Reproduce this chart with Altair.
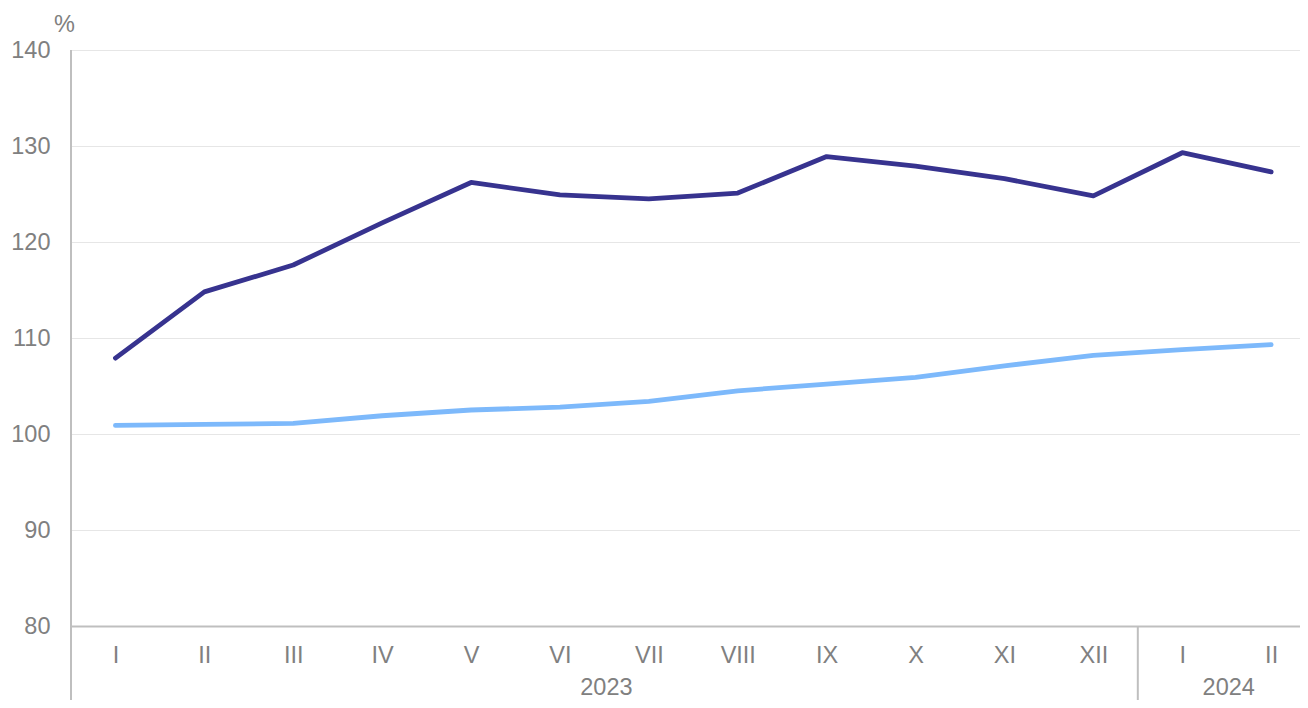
import json
import altair as alt
import pandas as pd

months = ["I", "II", "III", "IV", "V", "VI", "VII", "VIII", "IX", "X", "XI", "XII", "I", "II"]
years = [2023] * 12 + [2024] * 2
dark_series = [107.9, 114.8, 117.6, 122.0, 126.2, 124.9, 124.5, 125.1, 128.9, 127.9, 126.6, 124.8, 129.3, 127.3]
light_series = [100.9, 101.0, 101.1, 101.9, 102.5, 102.8, 103.4, 104.5, 105.2, 105.9, 107.1, 108.2, 108.8, 109.3]
y_ticks = [80, 90, 100, 110, 120, 130, 140]
series_names = ["Serie 1", "Serie 2"]
series_colors = ["#37338f", "#7db9fb"]

W, H = 1229, 576
STEP = 88.9  # pixel width of one month band
GRAY = "#808080"
LINE = "#bfbfbf"
FONT = "Liberation Sans"
FS = 23.5

idx = list(range(len(months)))
df = pd.DataFrame({"i": idx * 2,
                   "v": dark_series + light_series,
                   "series": [series_names[0]] * len(idx) + [series_names[1]] * len(idx)})

yr = pd.DataFrame({"i": idx, "year": years})
year_lab = yr.groupby("year", as_index=False)["i"].mean()
year_lab["label"] = year_lab["year"].astype(str)
seps = yr.groupby("year", as_index=False)["i"].max().iloc[:-1].copy()
seps["x"] = seps["i"] + 0.5
left = pd.DataFrame({"x": [idx[0] - 0.5]})

label_expr = json.dumps(months).replace('"', "'") + "[datum.value]"

x0 = idx[0] - 0.5
xscale = alt.Scale(domain=[x0, x0 + W / STEP], nice=False, zero=False)

lines = alt.Chart(df).mark_line(strokeWidth=4.8, strokeCap="round", strokeJoin="round").encode(
    x=alt.X("i:Q", scale=xscale,
            axis=alt.Axis(values=idx, labelExpr=label_expr, grid=False, ticks=False, tickSize=0,
                          domain=True, domainColor=LINE, domainWidth=2, labelFontSize=FS,
                          labelColor=GRAY, labelFont=FONT, labelPadding=17, title=None)),
    y=alt.Y("v:Q", scale=alt.Scale(domain=[80, 140], nice=False, zero=False),
            axis=alt.Axis(values=y_ticks, grid=True, gridColor="#e6e6e6", gridWidth=1,
                          domain=False, ticks=False, tickSize=0, labelPadding=21,
                          labelFontSize=FS, labelColor=GRAY, labelFont=FONT,
                          title="%", titleAngle=0, titleX=-7, titleY=-26, titleAlign="center",
                          titleBaseline="middle", titleFontWeight="normal", titleFontSize=FS,
                          titleColor=GRAY, titleFont=FONT)),
    color=alt.Color("series:N", scale=alt.Scale(domain=series_names, range=series_colors), legend=None),
)

years_text = alt.Chart(year_lab).mark_text(fontSize=FS, color=GRAY, font=FONT, baseline="middle", dx=2).encode(
    x=alt.X("i:Q", scale=xscale),
    y=alt.value(H + 62),
    text="label:N",
)

sep_rules = alt.Chart(seps).mark_rule(color=LINE, strokeWidth=2).encode(
    x=alt.X("x:Q", scale=xscale),
    y=alt.value(H),
    y2=alt.value(H + 90),
)

left_rule = alt.Chart(left).mark_rule(color=LINE, strokeWidth=2).encode(
    x=alt.X("x:Q", scale=xscale),
    y=alt.value(0),
    y2=alt.value(H + 90),
)

chart = alt.layer(left_rule, sep_rules, lines, years_text).properties(
    width=W, height=H,
    padding={"left": 63, "top": 42, "right": 0, "bottom": 74},
    autosize=alt.AutoSizeParams(type="none"),
    background="white",
).configure_view(stroke=None)

chart.save("out.html", embed_options={"renderer": "svg", "actions": False})
